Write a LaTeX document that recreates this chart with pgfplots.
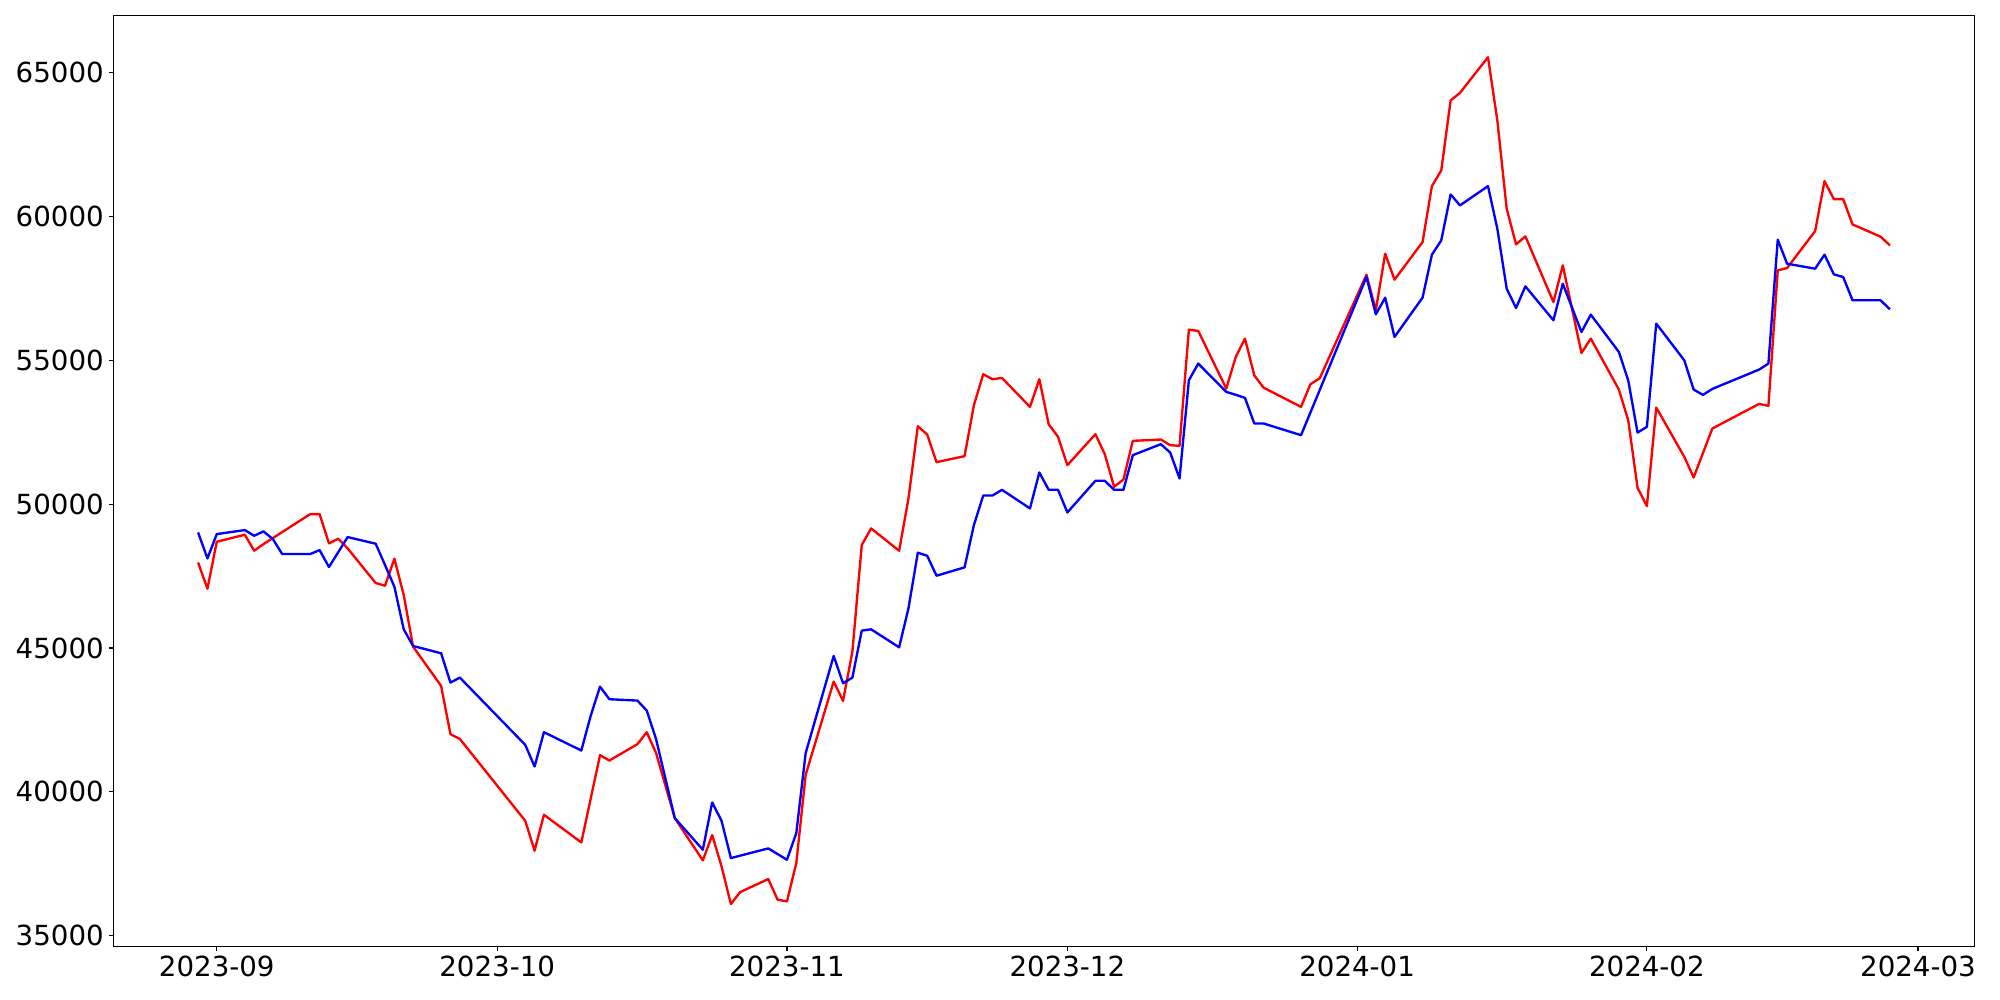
\documentclass[border=0pt]{standalone}
\usepackage{fontspec}
\setmainfont{DejaVu Sans}
\usepackage{pgfplots}
\pgfplotsset{compat=1.18}
\usetikzlibrary{calc}

% x = days since 2023-09-01
\begin{document}
\begin{tikzpicture}
\begin{axis}[
  scale only axis,
  width=18.61in,
  height=9.31in,
  xmin=-11.05, xmax=188.05,
  ymin=34630, ymax=66990,
  xtick={0,30,61,91,122,153,182},
  xticklabels={2023-09,2023-10,2023-11,2023-12,2024-01,2024-02,2024-03},
  ytick={35000,40000,45000,50000,55000,60000,65000},
  scaled y ticks=false,
  xtick pos=left,
  ytick pos=left,
  tick align=outside,
  major tick length=3.5pt,
  tick style={black, line width=0.8pt},
  axis line style={line width=0.8pt},
  tick label style={font=\fontsize{20}{24}\selectfont},
  /pgf/number format/assume math mode=true,
  /pgf/number format/1000 sep={},
]
\addplot[red, line width=1.7pt, line join=round] coordinates {
(-2,47970) (-1,47060) (0,48692) (3,48935) (4,48380) (5,48611) (10,49653) (11,49653)
(12,48634) (13,48796) (14,48461) (17,47257) (18,47164) (19,48102) (20,46840) (21,45046)
(24,43680) (25,42002) (26,41840) (33,38993) (34,37955) (35,39202) (39,38241) (41,41273)
(42,41088) (45,41655) (46,42072) (47,41343) (49,39086) (52,37616) (53,38496) (54,37408)
(55,36100) (56,36516) (59,36968) (60,36250) (61,36192) (62,37523) (63,40591) (66,43831)
(67,43160) (68,44872) (69,48575) (70,49155) (73,48379) (74,50196) (75,52708) (76,52419)
(77,51458) (80,51666) (81,53437) (82,54514) (83,54340) (84,54386) (87,53379) (88,54340)
(89,52777) (90,52338) (91,51354) (94,52430) (95,51736) (96,50602) (97,50856) (98,52199)
(101,52245) (102,52048) (103,52025) (104,56064) (105,56018) (108,54016) (109,55100) (110,55752)
(111,54470) (112,54045) (116,53380) (117,54167) (118,54375) (123,57974) (124,56736) (125,58704)
(126,57801) (129,59109) (130,61053) (131,61597) (132,64028) (133,64294) (136,65532) (137,63333)
(138,60266) (139,59028) (140,59305) (143,57025) (144,58298) (146,55254) (147,55752) (150,53981)
(151,52917) (152,50567) (153,49930) (154,53356) (157,51643) (158,50926) (160,52627) (165,53483)
(166,53414) (167,58125) (168,58206) (171,59490) (172,61226) (173,60601) (174,60601) (175,59722)
(178,59294) (179,58993)
};
\addplot[blue, line width=1.7pt, line join=round] coordinates {
(-2,49016) (-1,48113) (0,48958) (3,49097) (4,48900) (5,49051) (6,48785) (7,48264)
(10,48264) (11,48403) (12,47812) (14,48854) (17,48623) (18,47882) (19,47130) (20,45648)
(21,45069) (24,44815) (25,43796) (26,43970) (33,41632) (34,40880) (35,42072) (39,41435)
(40,42639) (41,43657) (42,43218) (45,43171) (46,42824) (47,41829) (49,39086) (52,37986)
(53,39630) (54,38993) (55,37697) (59,38033) (61,37639) (62,38565) (63,41343) (66,44722)
(67,43773) (68,43970) (69,45602) (70,45648) (73,45023) (74,46377) (75,48310) (76,48206)
(77,47511) (80,47801) (81,49271) (82,50301) (83,50301) (84,50497) (87,49849) (88,51099)
(89,50497) (90,50497) (91,49710) (94,50810) (95,50810) (96,50497) (97,50497) (98,51701)
(101,52083) (102,51794) (103,50891) (104,54305) (105,54884) (108,53900) (109,53800) (110,53692)
(111,52801) (112,52801) (116,52396) (123,57893) (124,56597) (125,57176) (126,55810) (129,57176)
(130,58669) (131,59167) (132,60764) (133,60382) (136,61053) (137,59572) (138,57488) (139,56817)
(140,57569) (143,56389) (144,57661) (146,55983) (147,56585) (150,55289) (151,54305) (152,52488)
(153,52685) (154,56273) (157,54999) (158,53981) (159,53796) (160,54004) (165,54675) (166,54884)
(167,59189) (168,58356) (171,58182) (172,58669) (173,57986) (174,57893) (175,57083) (178,57083)
(179,56771)
};
\end{axis}
\path ($(current axis.south west)+(-1.135in,-0.536in)$) rectangle ($(current axis.north east)+(0.255in,0.153in)$);
\end{tikzpicture}
\end{document}
